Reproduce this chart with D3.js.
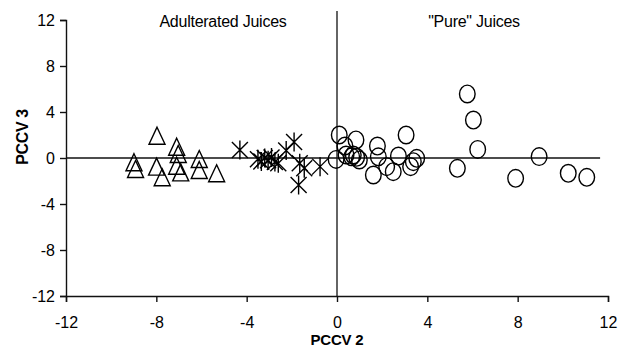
<!DOCTYPE html>
<html>
<head>
<meta charset="utf-8">
<script src="https://cdn.jsdelivr.net/npm/d3@7"></script>
<style>
	body { margin: 0; background: #fff; }
	svg { font-family: "Liberation Sans", Arial, sans-serif; }
</style>
</head>
<body>
<div id="chart"><svg></svg></div>
<script>
// adulterated juices, triangles
var triX = [-8.99, -8.92, -7.97, -7.99, -7.74, -7.1, -7.03, -7.1, -6.92, -6.1, -6.1, -5.33];
var triY = [-0.37, -0.96, 1.94, -0.75, -1.68, 0.98, 0.35, -0.67, -1.25, -0.09, -1.04, -1.33];

// adulterated juices, stars
var starX = [-4.3, -3.5, -3.35, -3.2, -3.05, -2.9, -2.75, -2.6, -2.25, -1.9, -1.65, -1.45, -1.7, -0.75];
var starY = [0.7, -0.1, -0.3, 0.0, -0.2, 0.05, -0.35, -0.45, 0.65, 1.4, -0.45, -0.9, -2.35, -0.75];

// "pure" juices, circles
var circX = [0.1, 0.35, 0.84, -0.04, 0.4, 0.65, 0.72, 0.87, 0.99, 1.79, 1.83, 1.61, 2.2, 2.49, 2.72, 3.06,
	3.26, 3.38, 3.53, 5.33, 5.77, 6.04, 6.23, 7.91, 8.95, 10.24, 11.06];
var circY = [2.0, 1.04, 1.57, -0.12, 0.26, 0.1, 0.26, 0.06, -0.17, 1.04, 0.1, -1.48, -0.75, -1.19, 0.17, 2.0,
	-0.75, -0.32, -0.03, -0.9, 5.57, 3.3, 0.75, -1.77, 0.12, -1.33, -1.68];

var ticks = [-12, -8, -4, 0, 4, 8, 12];

var width = 620, height = 354;
var svg = d3.select("#chart").select("svg")
	.attr("width", width)
	.attr("height", height);

var x = d3.scaleLinear().domain([-12, 12]).range([66, 608]);
var y = d3.scaleLinear().domain([-12, 12]).range([296, 20]);

function pts(xs, ys)
{
	return xs.map(function(v, i) { return [v, ys[i]]; });
}

// zero lines
svg.append("line")
	.attr("x1", x(-12)).attr("x2", x(11.65))
	.attr("y1", y(0)).attr("y2", y(0))
	.style("stroke", "#111").style("stroke-width", 1.3);
svg.append("line")
	.attr("x1", x(0)).attr("x2", x(0))
	.attr("y1", 11).attr("y2", y(-12))
	.style("stroke", "#111").style("stroke-width", 1.3);

// plain hyphen minus like the original
var fmt = function(d) { return String(d); };

var xAxis = d3.axisBottom(x).tickValues(ticks).tickFormat(fmt).tickSizeOuter(0).tickSize(6).tickPadding(15);
var yAxis = d3.axisLeft(y).tickValues(ticks).tickFormat(fmt).tickSizeOuter(0).tickSize(6).tickPadding(5);

svg.append("g")
	.attr("class", "x")
	.attr("transform", "translate(0," + y(-12) + ")")
	.call(xAxis);
svg.append("g")
	.attr("class", "y")
	.attr("transform", "translate(" + x(-12) + ",0)")
	.call(yAxis);

svg.selectAll(".x path, .y path, .x line, .y line")
	.style("stroke", "#111")
	.style("stroke-width", 1.4);
svg.selectAll(".x text, .y text")
	.style("font-size", "16px")
	.style("fill", "#000");

// markers
svg.selectAll(".tri")
	.data(pts(triX, triY))
	.enter()
	.append("path")
	.attr("class", "tri")
	.attr("transform", function(d) { return "translate(" + x(d[0]) + "," + y(d[1]) + ")"; })
	.attr("d", "M0,-8.5L8,8.5L-8,8.5Z")
	.style("fill", "none")
	.style("stroke", "#000")
	.style("stroke-width", 1.4);

svg.selectAll(".star")
	.data(pts(starX, starY))
	.enter()
	.append("path")
	.attr("class", "star")
	.attr("transform", function(d) { return "translate(" + x(d[0]) + "," + y(d[1]) + ")"; })
	.attr("d", "M0,-9.5V9.5M-8,-8L8,8M8,-8L-8,8")
	.style("fill", "none")
	.style("stroke", "#000")
	.style("stroke-width", 1.4);

svg.selectAll(".circ")
	.data(pts(circX, circY))
	.enter()
	.append("ellipse")
	.attr("class", "circ")
	.attr("cx", function(d) { return x(d[0]); })
	.attr("cy", function(d) { return y(d[1]); })
	.attr("rx", 7.8)
	.attr("ry", 8.8)
	.style("fill", "none")
	.style("stroke", "#000")
	.style("stroke-width", 1.4);

// labels
svg.append("text")
	.attr("x", 223)
	.attr("y", 27)
	.style("text-anchor", "middle")
	.style("font-size", "16px")
	.style("letter-spacing", "-0.25px")
	.text("Adulterated Juices");
svg.append("text")
	.attr("x", 474)
	.attr("y", 27)
	.style("text-anchor", "middle")
	.style("font-size", "16px")
	.style("letter-spacing", "-0.25px")
	.text("\"Pure\" Juices");

svg.append("text")
	.attr("x", 337)
	.attr("y", 345)
	.style("text-anchor", "middle")
	.style("font-size", "15px")
	.style("font-weight", "bold")
	.style("letter-spacing", "-0.2px")
	.text("PCCV 2");
svg.append("text")
	.attr("transform", "translate(28,137) rotate(-90)")
	.style("text-anchor", "middle")
	.style("font-size", "16px")
	.style("font-weight", "bold")
	.style("letter-spacing", "-0.4px")
	.text("PCCV 3");
</script>
</body>
</html>
